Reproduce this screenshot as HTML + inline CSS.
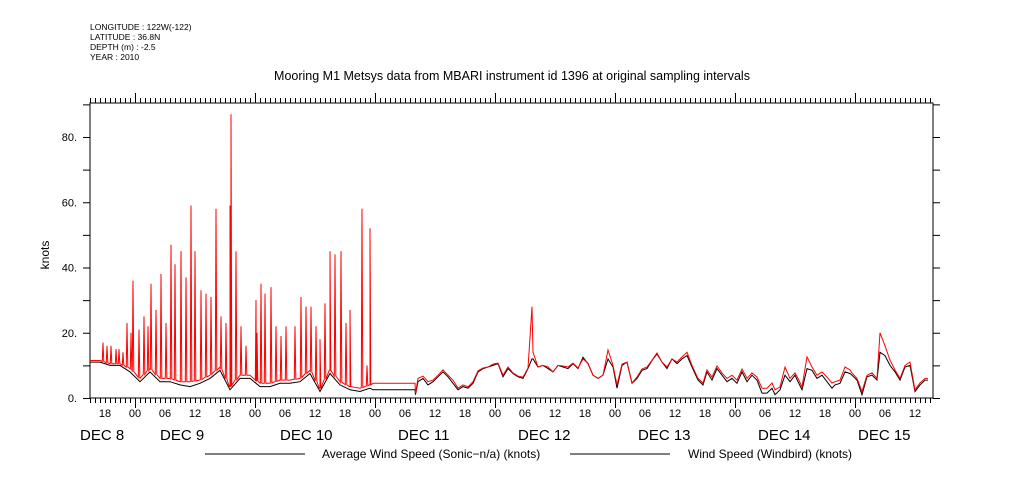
<!DOCTYPE html>
<html><head><meta charset="utf-8">
<style>
body{margin:0;background:#fff;}
svg{display:block;font-family:"Liberation Sans",sans-serif;}
</style></head>
<body>
<svg id="chart" width="1009" height="504" viewBox="0 0 1009 504">
<rect x="0" y="0" width="1009" height="504" fill="#fff"/>
<g font-size="8.5" fill="#000">
<text x="90" y="30">LONGITUDE : 122W(-122)</text>
<text x="90" y="40">LATITUDE : 36.8N</text>
<text x="90" y="50">DEPTH (m) : -2.5</text>
<text x="90" y="60">YEAR : 2010</text>
</g>
<text x="512" y="80" font-size="12.5" text-anchor="middle">Mooring M1 Metsys data from MBARI instrument id 1396 at original sampling intervals</text>
<text x="0" y="0" font-size="12" text-anchor="middle" transform="translate(49,255) rotate(-90)">knots</text>
<g id="axes"></g>
<g id="series"></g>
<g font-size="12">
<line x1="205" y1="454" x2="305" y2="454" stroke="#000"/>
<text x="322" y="458">Average Wind Speed (Sonic−n/a) (knots)</text>
<line x1="570" y1="454" x2="670" y2="454" stroke="#000"/>
<text x="688" y="458">Wind Speed (Windbird) (knots)</text>
</g>
</svg>
<script>
const seg1Times = [-9,-7,-5,-3,-1,1,3,5,7,9,11,13,15,17,19,21,23,25,27,29,31,33,35,37,39,41,43,45,47];
const seg1Avg   = [11,11,10,10,8,5,8,5,5,4,3.5,4.5,6,8.5,2.5,6,6,3.5,3.5,4.5,4.5,5,7.5,2,7.5,4,2.5,2,3];
const seg1WindbirdBase = [11.5,11.5,10.5,10.5,9,6,9,6,6,5,5,5.5,7,9.5,3.5,7,7,4.5,4.5,5.5,5.5,6,8.5,3,8.5,5,3.5,3,4];
const spikeTimes = [-6.4,-5.6,-4.8,-3.8,-3.2,-2.4,-1.6,-0.8,-0.4,0.8,1.8,2.6,3.2,4.2,5.2,6.2,7.2,8,9.2,10.2,11.2,12,13.2,14.2,15.2,16.2,17.2,18.2,19,19.2,20.2,21.2,22.2,24.2,24.4,25.2,26,27.2,28.2,29.2,30.2,32,33.2,34.2,35.2,36.2,37,38,39,40,41.2,42.2,43,45.4,46.4,47];
const spikeVals  = [17,16,16,15,15,14,23,20,36,21,25,22,35,27,38,23,47,41,45,37,59,45,33,32,31,58,25,23,59,87,45,22,16,30,20,35,32,34,22,19,22,22,31,28,28,22,18,29,45,44,45,23,27,58,10,52];
const gapTimes = [47.6,56];
const gapAvg = [2.5,2.5];
const gapWindbird = [4.5,4.5];
const seg2Times = [56.1,56.6,57.6,58.6,59.6,60.6,61.6,62.6,63.6,64.6,65.6,66.6,67.6,68.6,69.6,70.6,71.6,72.6,73.6,74.6,75.6,76.6,77.6,78.6,79.4,79.6,80.6,81.6,82.6,83.6,84.6,85.6,86.6,87.6,88.6,89.6,90.6,91.6,92.6,93.6,94.6,95.6,96.4,97.4,98.4,99.4,100.4,101.4,102.4,103.4,104.4,105.4,106.4,107.4,108.4,109.4,110.4,111.4,112.6,113.6,114.4,115.4,116.4,117.4,118.4,119.4,120.4,121.4,122.4,123.4,124.4,125.4,126.4,127.4,128,129,130,131,132,132.6,133.4,134.4,135.4,136.4,137.4,138.4,139.4,140,141,142,143,143.4,144.4,145.4,146.4,147.4,148.4,149,150,151,152,153,154,155,156,157,158,158.6];
const seg2Windbird = [1.5,6,6.7,5,5.5,7,8.6,7,5.5,3,4,3.4,5,8.3,9.2,9.5,10.4,10.7,7,9.5,7.7,6.7,6.4,9.2,28,14,9.5,10,9.5,8,10,9.8,9.5,10.7,9.2,12,10.7,7,6,7,14.7,10,4,10.4,11,4.6,6.4,8.9,9.5,11.6,13.8,11,9.5,12,11,12.6,14,10,6,4.6,8.6,6.4,9.8,7.7,6,7,5.5,8.9,6,7.7,6.4,3,3,4.6,2.5,3.4,9.5,6,7.7,6,3.4,12.6,9.5,7,8,6.4,4.6,5,5.5,9.5,8.6,7.7,6,2,7,7.7,6,20,16,11.6,8.6,6,10,11,2.5,4.6,6,6,7,6];
const seg2Avg = [1,5,6,4,5,6.5,8,6.5,4.5,2.5,3.5,3,4.5,8,9,9.5,10,10.5,6.5,9,7.5,6.5,6,9,12,12,9.5,10,9,8,10,9.5,9,10.5,9,12.5,10.5,7,6,7,12,9.5,3,10,11,4.5,6,8.5,9,11.5,13.5,11,9,12,10.5,12,13,9.5,5.5,4,8,5.5,9,7,5,6,4.5,8,5,7,5.5,1.5,1.5,3,1,2.5,7,5,7,5,2.5,9,8.5,6,7,5,3,4,4.5,8,7.5,7,5.5,1,6.5,7,5.5,14,13,10,8,5.5,9.5,10,2,4,5.5,5.5,6.5,5.5];
const hourTickLabels = ["18","00","06","12"];
const dayLabels = ["DEC  8","DEC  9","DEC 10","DEC 11","DEC 12","DEC 13","DEC 14","DEC 15"];
const yTickLabels = ["0.","20.","40.","60.","80."];

const X0=135, PXH=5, Y0=398, PXV=3.2625, L=90, R=933, T=103, B=398;
const xs = h => X0 + h*PXH;
const ys = v => Y0 - v*PXV;
const NS="http://www.w3.org/2000/svg";
const axes=document.getElementById('axes'), series=document.getElementById('series');
function mk(tag, attrs, parent){const e=document.createElementNS(NS,tag);for(const k in attrs)e.setAttribute(k,attrs[k]);parent.appendChild(e);return e;}

const frame=mk('rect',{x:L,y:T,width:R-L,height:B-T,fill:'none',stroke:'#000','stroke-width':1},axes);



let tickPath='';
for(let h=-9; xs(h)<=R; h++){
  const x=xs(h)+0.5; const major=((h%24)+24)%24===0;
  tickPath+=`M${x},${B}V${B+(major?10:5)}M${x},${T}V${T-(major?10:5)}`;
}
for(let v=0; v<=90; v+=10){
  const y=ys(v)+0.5;
  tickPath+=`M${L},${y}H${L-7}M${R},${y}H${R+7}`;
}
const ticks=mk('path',{d:tickPath,stroke:'#000','stroke-width':1,fill:'none'},axes);



for(let k=0; k*6-6<=159; k++){
  const h=-6+k*6; if(xs(h)>R) break;
  const t=mk('text',{x:xs(h),y:417,'font-size':11,'text-anchor':'middle'},axes);
  t.textContent=hourTickLabels[k%4];
  
  
}
const dayX=[80,160,280,398,518,638,758,858];
dayLabels.forEach((d,i)=>{
  const t=mk('text',{x:dayX[i],y:440,'font-size':15},axes);
  t.textContent=d;
  
  
});
yTickLabels.forEach((lab,i)=>{
  const t=mk('text',{x:77,y:ys(i*20)+4,'font-size':11,'text-anchor':'end'},axes);
  t.textContent=lab;
  
  
});

function interp(ts,vs,t){
  if(t<=ts[0])return vs[0];
  for(let i=1;i<ts.length;i++) if(t<=ts[i]){const f=(t-ts[i-1])/(ts[i]-ts[i-1]);return vs[i-1]+f*(vs[i]-vs[i-1]);}
  return vs[vs.length-1];
}
const red=[];
const events=seg1Times.map((t,i)=>({t,v:seg1WindbirdBase[i]}));
spikeTimes.forEach((t,i)=>{
  const b=interp(seg1Times,seg1WindbirdBase,t);
  events.push({t:t-0.15,v:b},{t:t,v:spikeVals[i]},{t:t+0.15,v:b});
});
events.sort((a,b)=>a.t-b.t);
events.forEach(e=>red.push([e.t,e.v]));
gapTimes.forEach((t,i)=>red.push([t,gapWindbird[i]]));
seg2Times.forEach((t,i)=>red.push([t,seg2Windbird[i]]));
const black=[];
seg1Times.forEach((t,i)=>black.push([t,seg1Avg[i]]));
gapTimes.forEach((t,i)=>black.push([t,gapAvg[i]]));
seg2Times.forEach((t,i)=>black.push([t,seg2Avg[i]]));

const bl=mk('polyline',{points:black.map(p=>xs(p[0]).toFixed(1)+','+ys(p[1]).toFixed(1)).join(' '),fill:'none',stroke:'#000','stroke-width':1},series);


const rl=mk('polyline',{points:red.map(p=>xs(p[0]).toFixed(1)+','+ys(p[1]).toFixed(1)).join(' '),fill:'none',stroke:'#f00','stroke-width':1},series);


</script>
</body></html>
